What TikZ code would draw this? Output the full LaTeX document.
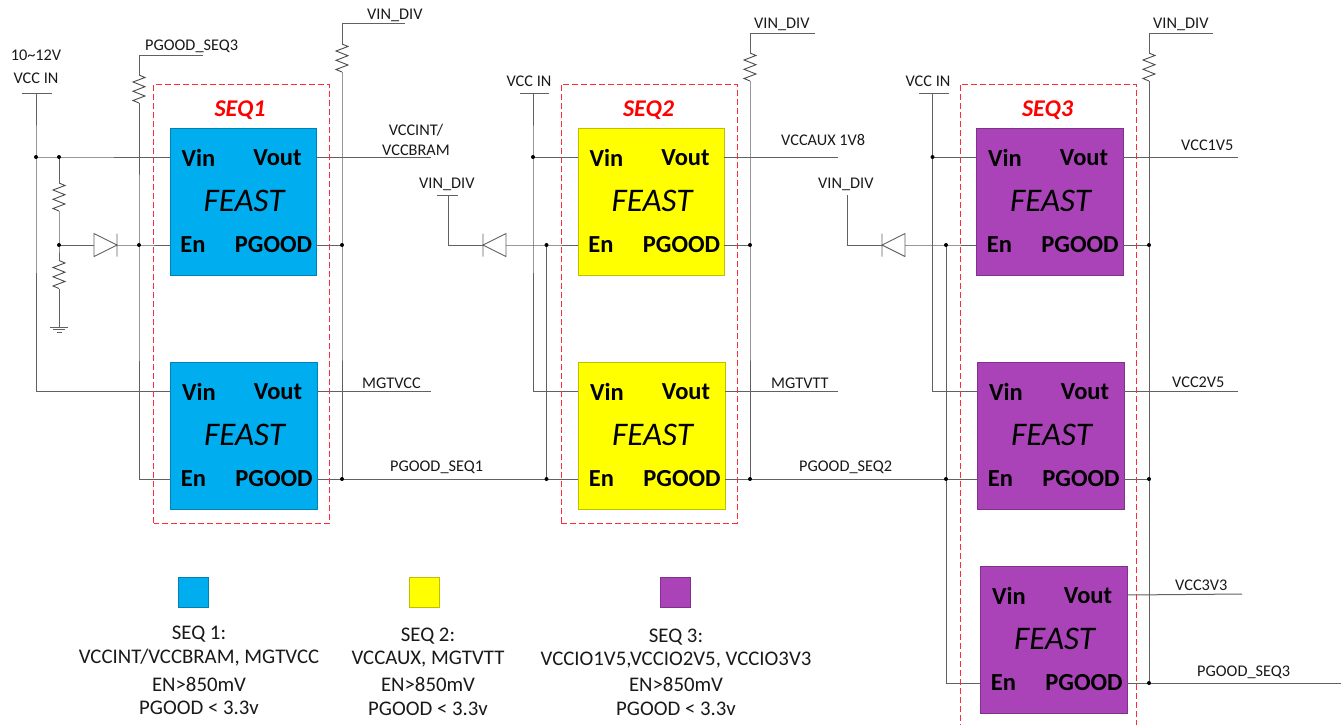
\documentclass[tikz,border=0pt]{standalone}
\usepackage{fontspec}
\setmainfont{Carlito}
\definecolor{seqblue}{HTML}{00AEEF}
\definecolor{seqyellow}{HTML}{FFFF00}
\definecolor{seqpurple}{HTML}{AB43B8}
\definecolor{framered}{HTML}{FF2A3C}
\tikzset{
  wire/.style={draw=black!62,line width=1pt},
  seqframe/.style={draw=framered,line width=1pt,dash pattern=on 6pt off 3pt},
  jdot/.style={circle,fill=black,inner sep=0pt,minimum size=4pt},
  lab/.style={inner sep=0pt,font=\fontsize{16.3}{16.3}\selectfont,text=black!90},
  legend/.style={inner sep=0pt,font=\fontsize{20.8}{20.8}\selectfont,text=black!90},
  pin/.style={inner sep=0pt,font=\fontsize{24.5}{24.5}\selectfont\bfseries},
  chip/.style={inner sep=0pt,font=\fontsize{33}{33}\selectfont\itshape},
  seqtitle/.style={inner sep=0pt,text=red,font=\fontsize{24}{24}\selectfont\bfseries\itshape},
  feastbox/.style={anchor=north west,minimum width=146.5pt,minimum height=146.5pt,inner sep=0pt,line width=1pt},
  swatch/.style={anchor=north west,minimum width=30pt,minimum height=30pt,inner sep=0pt,line width=.8pt},
  res/.pic={\draw[wire,line width=.9pt,black!70] (0,-14)--(6,-11.5)--(-6,-7)--(6,-2.3)--(-6,2.3)--(6,7)--(-6,11.5)--(0,14);},
  diodeR/.pic={\draw[wire,line width=.9pt] (-11.5,-11.5)--(11.5,0)--(-11.5,11.5)--cycle (11.5,-11.5)--(11.5,11.5);},
  diodeL/.pic={\draw[wire,line width=.9pt] (11.5,-11.5)--(-11.5,0)--(11.5,11.5)--cycle (-11.5,-11.5)--(-11.5,11.5);},
  gnd/.pic={\draw[wire,line width=.9pt] (-9,0)--(9,0) (-6,2.5)--(6,2.5) (-2.5,5)--(2.5,5);}
}
% name, x, y, fill
\newcommand{\feastchip}[4]{%
  \node[feastbox,fill=#4,draw=#4!75!black] (#1) at (#2,#3) {};
  \begin{scope}[shift={(#2,#3)}]
    \coordinate (#1-vin) at (0,29);
    \coordinate (#1-vout) at (146.5,29);
    \coordinate (#1-en) at (0,117);
    \coordinate (#1-pg) at (146.5,117);
    \node[pin] (#1-tvin) at (29,29.5) {Vin};
    \node[pin] (#1-tvout) at (108,29.5) {Vout};
    \node[chip] (#1-tf) at (74.5,73) {FEAST};
    \node[pin] (#1-ten) at (23.5,117) {En};
    \node[pin] (#1-tpg) at (104,117) {PGOOD};
  \end{scope}
}
\begin{document}
\begin{tikzpicture}[x=1pt,y=-1pt]
\useasboundingbox (0,0) rectangle (1341,724);
\clip (0,0) rectangle (1341,724);
\feastchip{a}{169.5}{128}{seqblue}
\feastchip{b}{170}{362}{seqblue}
\feastchip{c}{577.5}{128}{seqyellow}
\feastchip{d}{578}{362}{seqyellow}
\feastchip{e}{976}{128}{seqpurple}
\feastchip{f}{977}{362}{seqpurple}
\feastchip{g}{980}{566}{seqpurple}
% junctions
\coordinate (j1) at (36,157); \coordinate (j2) at (59,157);
\coordinate (j3) at (59,245); \coordinate (j4) at (139,245);
\coordinate (j5) at (342,245); \coordinate (j6) at (342,479);
\coordinate (j7) at (533,157); \coordinate (j8) at (546.5,245);
\coordinate (j9) at (546.5,479); \coordinate (j10) at (750,245);
\coordinate (j11) at (750,479); \coordinate (j12) at (932.5,157);
\coordinate (j13) at (946,245); \coordinate (j14) at (946,479);
\coordinate (j15) at (1149,245); \coordinate (j16) at (1149,479);
\coordinate (j17) at (1149,683);
% ---- SEQ1 wiring
\coordinate (v1t) at (36,93);
\draw[wire] (22,93) -- (52,93);
\draw[wire] (v1t) -- (j1) -- (36,391) -- (b-vin);
\draw[wire] (j1) -- (j2) -- (a-vin);
\pic at (59,197) {res}; \pic at (59,274.5) {res};
\draw[wire] (j2) -- (59,183) (59,211) -- (j3) -- (59,260.5) (59,288.5) -- (59,327);
\pic at (59,327) {gnd};
\pic at (105.5,245) {diodeR};
\draw[wire] (j3) -- (94,245) (117,245) -- (j4) -- (a-en);
\draw[wire] (203,55) -- (139,55) -- (139,75);
\pic at (139,89) {res};
\draw[wire] (139,103) -- (j4) -- (139,479) -- (b-en);
\draw[wire] (405,23) -- (342,23) -- (342,44);
\pic at (342,58) {res};
\draw[wire] (342,72) -- (j5) -- (j6);
\draw[wire] (a-pg) -- (j5);
\draw[wire] (a-vout) -- (431,157);
\draw[wire] (b-vout) -- (431,391);
\draw[wire] (b-pg) -- (j6) -- (j9) -- (d-en);
% ---- SEQ2 wiring
\draw[wire] (520,93) -- (549,93);
\draw[wire] (533,93) -- (j7) -- (533,391) -- (d-vin);
\draw[wire] (j7) -- (c-vin);
\draw[wire] (437,195) -- (458,195);
\draw[wire] (448,195) -- (448,245) -- (483,245);
\pic at (494.5,245) {diodeL};
\draw[wire] (506,245) -- (j8) -- (c-en);
\draw[wire] (j8) -- (j9);
\draw[wire] (815,33) -- (750,33) -- (750,53);
\pic at (750,67) {res};
\draw[wire] (750,81) -- (j10) -- (j11);
\draw[wire] (c-pg) -- (j10);
\draw[wire] (c-vout) -- (838,157);
\draw[wire] (d-vout) -- (838,391);
\draw[wire] (d-pg) -- (j11) -- (j14) -- (f-en);
% ---- SEQ3 wiring
\draw[wire] (919,93) -- (949,93);
\draw[wire] (932.5,93) -- (j12) -- (932.5,391) -- (f-vin);
\draw[wire] (j12) -- (e-vin);
\draw[wire] (847,195) -- (847,245) -- (882,245);
\pic at (893.5,245) {diodeL};
\draw[wire] (905,245) -- (j13) -- (e-en);
\draw[wire] (j13) -- (j14) -- (946,683) -- (g-en);
\draw[wire] (1213,33) -- (1149,33) -- (1149,53);
\pic at (1149,67) {res};
\draw[wire] (1149,81) -- (j15) -- (j16) -- (j17);
\draw[wire] (e-pg) -- (j15);
\draw[wire] (f-pg) -- (j16);
\draw[wire] (e-vout) -- (1238,157);
\draw[wire] (f-vout) -- (1238,391);
\draw[wire] (g-vout) -- (1242,594);
\draw[wire] (g-pg) -- (j17) -- (1341,683);
\foreach \j in {j1,j2,j3,j4,j5,j6,j7,j8,j9,j10,j11,j12,j13,j14,j15,j16,j17} \node[jdot] at (\j) {};
% frames
\draw[seqframe] (153.5,523) -- (153.5,84) -- (329,84) -- (329,523) -- cycle;
\draw[seqframe] (561,523) -- (561,84) -- (737,84) -- (737,523) -- cycle;
\draw[seqframe] (960,730) -- (960,84) -- (1136,84) -- (1136,730);
\node[seqtitle] (s1) at (240,110) {SEQ1};
\node[seqtitle] (s2) at (648.5,110) {SEQ2};
\node[seqtitle] (s3) at (1047.5,110) {SEQ3};
% ---- net labels
\node[lab] (l1) at (36,55) {10\textasciitilde12V};
\node[lab] (l2) at (36,78) {VCC IN};
\node[lab,anchor=west] (l3) at (145,46) {PGOOD\_SEQ3};
\node[lab,anchor=west] (l4) at (367,15) {VIN\_DIV};
\node[lab] (l5) at (416,130) {VCCINT/};
\node[lab] (l6) at (416,150) {VCCBRAM};
\node[lab,anchor=west] (l7) at (419,184) {VIN\_DIV};
\node[lab] (l8) at (529,81) {VCC IN};
\node[lab,anchor=west] (l9) at (754,24) {VIN\_DIV};
\node[lab,anchor=west] (l10) at (781,140) {VCCAUX 1V8};
\node[lab,anchor=west] (l11) at (818,184) {VIN\_DIV};
\node[lab] (l12) at (928,81) {VCC IN};
\node[lab,anchor=west] (l13) at (1153,24) {VIN\_DIV};
\node[lab,anchor=west] (l14) at (1181,145) {VCC1V5};
\node[lab,anchor=west] (l15) at (362,383) {MGTVCC};
\node[lab,anchor=west] (l16) at (771,383) {MGTVTT};
\node[lab,anchor=west] (l17) at (390,467) {PGOOD\_SEQ1};
\node[lab,anchor=west] (l18) at (799,467) {PGOOD\_SEQ2};
\node[lab,anchor=west] (l19) at (1172,382) {VCC2V5};
\node[lab,anchor=west] (l20) at (1175,585) {VCC3V3};
\node[lab,anchor=west] (l21) at (1197,672) {PGOOD\_SEQ3};
% ---- legend
\node[swatch,fill=seqblue,draw=seqblue!75!black] (k1) at (178,577) {};
\node[swatch,fill=seqyellow,draw=seqyellow!75!black] (k2) at (409,577) {};
\node[swatch,fill=seqpurple,draw=seqpurple!75!black] (k3) at (660,577) {};
\node[legend] (t11) at (199,634) {SEQ 1:};
\node[legend] (t12) at (199,658) {VCCINT/VCCBRAM, MGTVCC};
\node[legend] (t13) at (199,684) {EN>850mV};
\node[legend] (t14) at (199,708) {PGOOD < 3.3v};
\node[legend] (t21) at (428,636) {SEQ 2:};
\node[legend] (t22) at (428,659) {VCCAUX, MGTVTT};
\node[legend] (t23) at (428,684) {EN>850mV};
\node[legend] (t24) at (428,709) {PGOOD < 3.3v};
\node[legend] (t31) at (676,637) {SEQ 3:};
\node[legend] (t32) at (676,660) {VCCIO1V5,VCCIO2V5, VCCIO3V3};
\node[legend] (t33) at (676,684) {EN>850mV};
\node[legend] (t34) at (676,709) {PGOOD < 3.3v};
\end{tikzpicture}
\end{document}
